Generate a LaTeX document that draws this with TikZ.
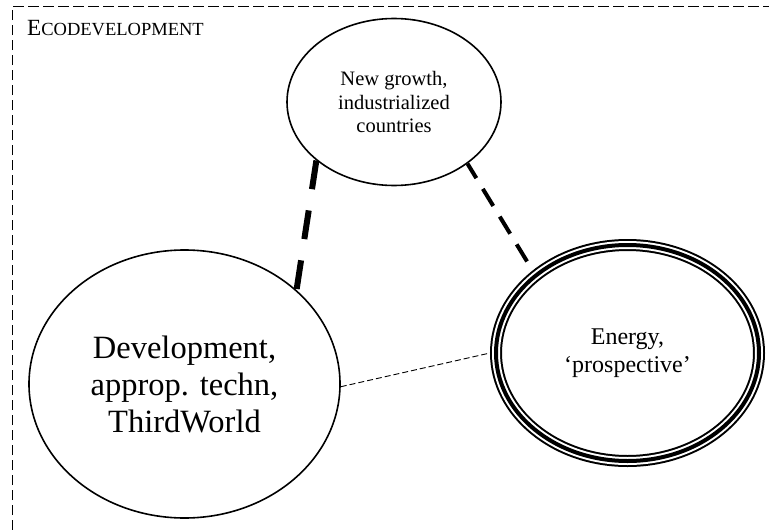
\documentclass[tikz,border=0pt]{standalone}
\usepackage{fontspec}
\setmainfont{Liberation Serif}
\usetikzlibrary{shapes.geometric}

\begin{document}
\begin{tikzpicture}[x=1pt,y=-1pt]

\tikzset{oval/.style = {shape=ellipse,draw,line width=1.6pt,inner sep=0pt,align=center}}
\tikzset{oval3/.style = {shape=ellipse,draw,line width=12pt,inner sep=0pt,align=center,
  postaction={draw,white,line width=8pt},postaction={draw,black,line width=4pt}}}
\tikzset{heavy/.style = {line width=6pt,dash pattern=on 29pt off 21.5pt}}
\tikzset{medium/.style = {line width=4pt,dash pattern=on 20pt off 12.5pt,dash phase=3pt}}
\tikzset{light/.style = {line width=0.9pt,dash pattern=on 6pt off 3pt}}
\useasboundingbox (0,0) rectangle (769,530);
% frame
\draw[line width=1pt,dash pattern=on 10.5pt off 4.5pt] (12,530) |- (769,6);
\node[anchor=base west,inner sep=0pt] (title) at (27,35)
  {{\fontsize{23.2}{27}\selectfont E}{\fontsize{18.5}{21}\selectfont CODEVELOPMENT}};
% vertices
\node[oval,minimum width=214pt,minimum height=167pt,font=\fontsize{20.5}{23.5}\selectfont]
  (growth) at (394,102) {New growth,\\industrialized\\countries};
\node[oval,minimum width=311pt,minimum height=268pt,font=\fontsize{32.5}{37}\selectfont]
  (devel) at (184.5,384) {Development,\\approp. techn,\\ThirdWorld};
\node[oval3,minimum width=263pt,minimum height=216pt,font=\fontsize{24}{27.5}\selectfont]
  (energy) at (627.5,353) {Energy,\\`prospective'};
%edges
\draw[heavy] (growth.217) -- (devel.40);
\draw[medium] (growth.320) -- (energy.139.5);
\draw[light] (devel.-1) -- (energy.180);
\end{tikzpicture}
\end{document}
